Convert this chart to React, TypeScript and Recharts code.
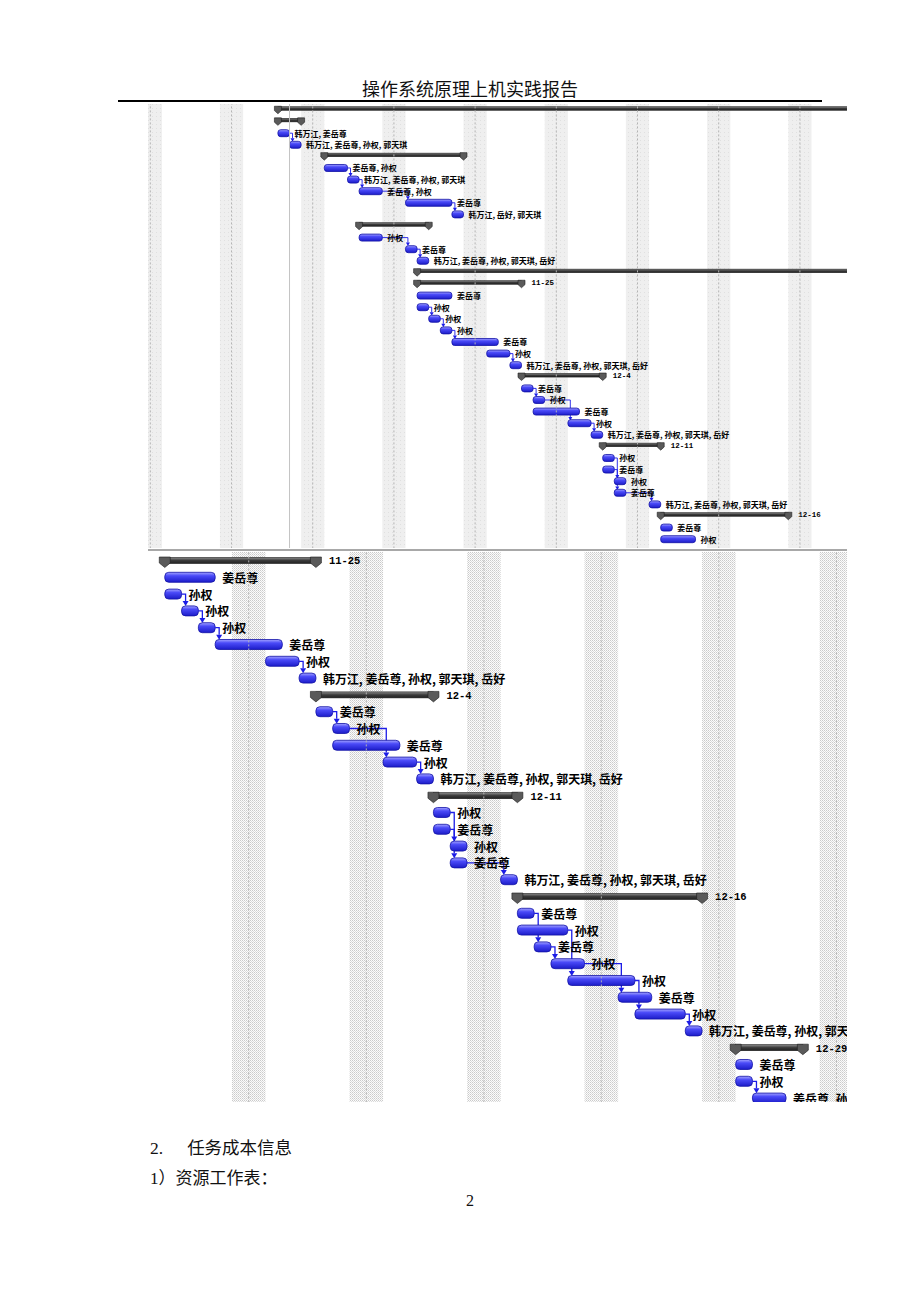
import React from "react";
import { BarChart, Bar, XAxis, YAxis, ReferenceArea, ReferenceLine } from "recharts";

// row kind: p = project summary, s = phase summary, t = task
const kinds = [
  "p", "s", "t", "t", "s", "t", "t", "t", "t", "t",
  "s", "t", "t", "t", "p", "s", "t", "t", "t", "t",
  "t", "t", "t", "s", "t", "t", "t", "t", "t", "s",
  "t", "t", "t", "t", "t", "s", "t", "t", "t", "t",
  "t", "t", "t", "t", "s", "t", "t", "t",
];

// days counted from the Monday of the first visible week
const starts = [
  10, 10, 10, 11, 14, 14, 16, 17, 21, 25,
  17, 17, 21, 22, 22, 22, 22, 22, 23, 24,
  25, 28, 30, 31, 31, 32, 32, 35, 37, 38,
  38, 38, 39, 39, 42, 43, 43, 43, 44, 45,
  46, 49, 50, 53, 56, 56, 56, 57,
];
const finishes = [
  80, 12, 11, 12, 26, 16, 17, 19, 25, 26,
  23, 19, 22, 23, 80, 31, 25, 23, 24, 25,
  29, 30, 31, 38, 32, 33, 36, 37, 38, 43,
  39, 39, 40, 40, 43, 54, 44, 46, 45, 47,
  50, 51, 53, 54, 60, 57, 57, 59,
];

const ALL = "韩万江, 姜岳尊, 孙权, 郭天琪, 岳好";
const labels = [
  "", "", "韩万江, 姜岳尊", "韩万江, 姜岳尊, 孙权, 郭天琪", "", "姜岳尊, 孙权",
  "韩万江, 姜岳尊, 孙权, 郭天琪", "姜岳尊, 孙权", "姜岳尊", "韩万江, 岳好, 郭天琪",
  "", "孙权", "姜岳尊", ALL, "", "11-25", "姜岳尊", "孙权", "孙权", "孙权",
  "姜岳尊", "孙权", ALL, "12-4", "姜岳尊", "孙权", "姜岳尊", "孙权", ALL, "12-11",
  "孙权", "姜岳尊", "孙权", "姜岳尊", ALL, "12-16", "姜岳尊", "孙权", "姜岳尊", "孙权",
  "孙权", "姜岳尊", "孙权", ALL, "12-29", "姜岳尊", "孙权", "姜岳尊, 孙权",
];

const links: [number, number][] = [
  [2, 3], [5, 6], [6, 7], [7, 8], [8, 9], [11, 12], [12, 13],
  [17, 18], [18, 19], [19, 20], [21, 22],
  [24, 25], [25, 27], [27, 28],
  [30, 32], [31, 33], [33, 34],
  [36, 38], [37, 40], [38, 39], [39, 41], [40, 42], [42, 43],
  [46, 47],
];

const saturdays = [-2, 5, 12, 19, 26, 33, 40, 47, 54, 61];
const statusDay = 11;

const rows = kinds.map((kind, i) => ({
  id: `r${i}`,
  idx: i,
  kind,
  start: starts[i],
  end: finishes[i],
  range: [starts[i], finishes[i]],
  label: labels[i],
  next: links.filter((l) => l[0] === i).map((l) => l[1]),
}));

const topRows = [...rows.slice(0, 38), { id: "blank", idx: 38, range: null }];
const bottomRows = rows.slice(15);

const CJK = '"Noto Sans CJK SC", "Noto Sans", sans-serif';
const MONO = '"Liberation Mono", "DejaVu Sans Mono", monospace';
const SERIF = '"Liberation Serif", "Noto Sans CJK SC", serif';

const topSize = {
  task: 7, sum: 3.5, markW: 7, markH: 7, sumShift: -1.5, font: 8, dateFont: 7.5,
  gap: 5, sumGap: 10, aw: 4, ah: 3.5, line: 0.9, pad: 3,
};
const bottomSize = {
  task: 10, sum: 6, markW: 11, markH: 10, sumShift: 0, font: 12, dateFont: 10.5,
  gap: 7, sumGap: 13, aw: 6, ah: 5, line: 1.3, pad: 4,
};

const makeShape = (sz: any, first: number, last: number) => (props: any) => {
  const p = props.payload ?? props;
  const { x, y, width, height } = props;
  if (!p || !p.kind || !Number.isFinite(x) || !Number.isFinite(width)) return <g />;
  const cy = y + height / 2;
  const xEnd = x + width;
  const pxDay = width / (p.end - p.start);

  if (p.kind === "t") {
    const top = cy - sz.task / 2;
    const arrows = p.next
      .filter((t: number) => t >= first && t <= last)
      .map((t: number) => {
        const tx = x + (starts[t] - p.start) * pxDay;
        const tTop = cy + (t - p.idx) * height - sz.task / 2;
        const vx = Math.max(xEnd + sz.pad, tx + sz.pad * 0.8);
        return (
          <g key={t}>
            <path
              d={`M${xEnd},${cy}H${vx}V${tTop - sz.ah}`}
              stroke="#1c1ce6"
              strokeWidth={sz.line}
              fill="none"
            />
            <path
              d={`M${vx - sz.aw / 2},${tTop - sz.ah}L${vx + sz.aw / 2},${tTop - sz.ah}L${vx},${tTop}Z`}
              fill="#1c1ce6"
            />
          </g>
        );
      });
    return (
      <g>
        <rect
          x={x}
          y={top}
          width={width}
          height={sz.task}
          rx={sz.task * 0.4}
          fill="url(#taskFill)"
          stroke="#1212a6"
          strokeWidth={0.8}
        />
        {arrows}
        <text
          x={xEnd + sz.gap}
          y={cy}
          dominantBaseline="central"
          fontFamily={CJK}
          fontWeight={700}
          fontSize={sz.font}
          fill="#000"
        >
          {p.label}
        </text>
      </g>
    );
  }

  const top = cy - sz.sum / 2 + sz.sumShift;
  const w = sz.markW;
  const marker = (cx: number) => (
    <path
      d={`M${cx - w / 2},${top - 0.5}H${cx + w / 2}V${top + sz.markH * 0.55}L${cx},${top + sz.markH}L${cx - w / 2},${top + sz.markH * 0.55}Z`}
      fill="#5a5a5a"
      stroke="#1e1e1e"
      strokeWidth={0.6}
    />
  );
  return (
    <g>
      <rect x={x} y={top} width={width} height={sz.sum} fill="url(#sumFill)" stroke="#1a1a1a" strokeWidth={0.6} />
      {marker(x)}
      {p.kind === "s" && marker(xEnd)}
      {p.kind === "s" && p.label && (
        <text
          x={xEnd + sz.sumGap}
          y={top + sz.sum / 2 + 1}
          dominantBaseline="central"
          fontFamily={MONO}
          fontWeight={700}
          fontSize={sz.dateFont}
          fill="#000"
        >
          {p.label}
        </text>
      )}
    </g>
  );
};

function Gantt(props: {
  data: any[];
  domain: [number, number];
  height: number;
  sz: any;
  first: number;
  last: number;
  pattern: string;
  showStatus?: boolean;
}) {
  const { data, domain, height, sz, first, last, pattern, showStatus } = props;
  return (
    <BarChart
      width={699}
      height={height}
      data={data}
      layout="vertical"
      barCategoryGap={0}
      margin={{ top: 0, right: 0, bottom: 0, left: 0 }}
    >
      <XAxis type="number" domain={domain} allowDataOverflow hide />
      <YAxis type="category" dataKey="id" hide />
      {saturdays.map((s) => (
        <ReferenceArea
          key={`w${s}`}
          x1={s}
          x2={s + 2}
          ifOverflow="hidden"
          fill={pattern}
          fillOpacity={1}
          stroke="none"
        />
      ))}
      {saturdays.map((s) => (
        <ReferenceLine
          key={`l${s}`}
          x={s + 1}
          ifOverflow="hidden"
          stroke="#b4b4b4"
          strokeDasharray="2 2"
        />
      ))}
      {showStatus && <ReferenceLine x={statusDay} stroke="#c4c4c4" strokeWidth={1} />}
      <Bar dataKey="range" isAnimationActive={false} shape={makeShape(sz, first, last)} />
    </BarChart>
  );
}

export default function App() {
  return (
    <div
      style={{
        position: "absolute",
        left: 0,
        top: 0,
        width: 920,
        height: 1300,
        background: "#fff",
        overflow: "hidden",
      }}
    >
      <svg width={0} height={0} style={{ position: "absolute" }}>
        <defs>
          <linearGradient id="taskFill" x1="0" y1="0" x2="0" y2="1">
            <stop offset="0" stopColor="#a4a4ff" />
            <stop offset="0.35" stopColor="#4a4af8" />
            <stop offset="1" stopColor="#1c1cc8" />
          </linearGradient>
          <linearGradient id="sumFill" x1="0" y1="0" x2="0" y2="1">
            <stop offset="0" stopColor="#8c8c8c" />
            <stop offset="0.5" stopColor="#3a3a3a" />
            <stop offset="1" stopColor="#222" />
          </linearGradient>
          <pattern id="wkTop" width="4" height="4" patternUnits="userSpaceOnUse">
            <rect width="4" height="4" fill="#efefef" />
            <rect x="0" y="0" width="1" height="1" fill="#e0e0e0" />
          </pattern>
          <pattern id="wkBottom" width="2" height="2" patternUnits="userSpaceOnUse">
            <rect width="2" height="2" fill="#fcfcfc" />
            <rect x="0" y="0" width="1" height="1" fill="#cacaca" />
            <rect x="1" y="1" width="1" height="1" fill="#dcdcdc" />
          </pattern>
        </defs>
      </svg>

      <div
        style={{
          position: "absolute",
          left: 0,
          width: 940,
          top: 75,
          textAlign: "center",
          fontFamily: SERIF,
          fontSize: 18,
          color: "#111",
        }}
      >
        操作系统原理上机实践报告
      </div>
      <div style={{ position: "absolute", left: 118, top: 100, width: 704, height: 1.5, background: "#000" }} />

      <div style={{ position: "absolute", left: 148, top: 103.5, width: 699, height: 444.5, overflow: "hidden" }}>
        <Gantt
          data={topRows}
          domain={[-1.2, 59.06]}
          height={452.4}
          sz={topSize}
          first={0}
          last={37}
          pattern="url(#wkTop)"
          showStatus
        />
      </div>
      <div style={{ position: "absolute", left: 148, top: 549, width: 699, height: 1.5, background: "#a8a8a8" }} />

      <div style={{ position: "absolute", left: 148, top: 551.6, width: 699, height: 550.4, overflow: "hidden" }}>
        <Gantt
          data={bottomRows}
          domain={[21, 62.63]}
          height={554.4}
          sz={bottomSize}
          first={15}
          last={47}
          pattern="url(#wkBottom)"
        />
      </div>

      <div style={{ position: "absolute", left: 150, top: 1134, fontFamily: SERIF, fontSize: 17.5, color: "#111" }}>
        2.
        <span style={{ marginLeft: 24 }}>任务成本信息</span>
      </div>
      <div style={{ position: "absolute", left: 150, top: 1164, fontFamily: SERIF, fontSize: 17, color: "#111" }}>
        1）资源工作表：
      </div>
      <div
        style={{
          position: "absolute",
          left: 0,
          width: 940,
          top: 1192,
          textAlign: "center",
          fontFamily: SERIF,
          fontSize: 16,
          color: "#111",
        }}
      >
        2
      </div>
    </div>
  );
}
